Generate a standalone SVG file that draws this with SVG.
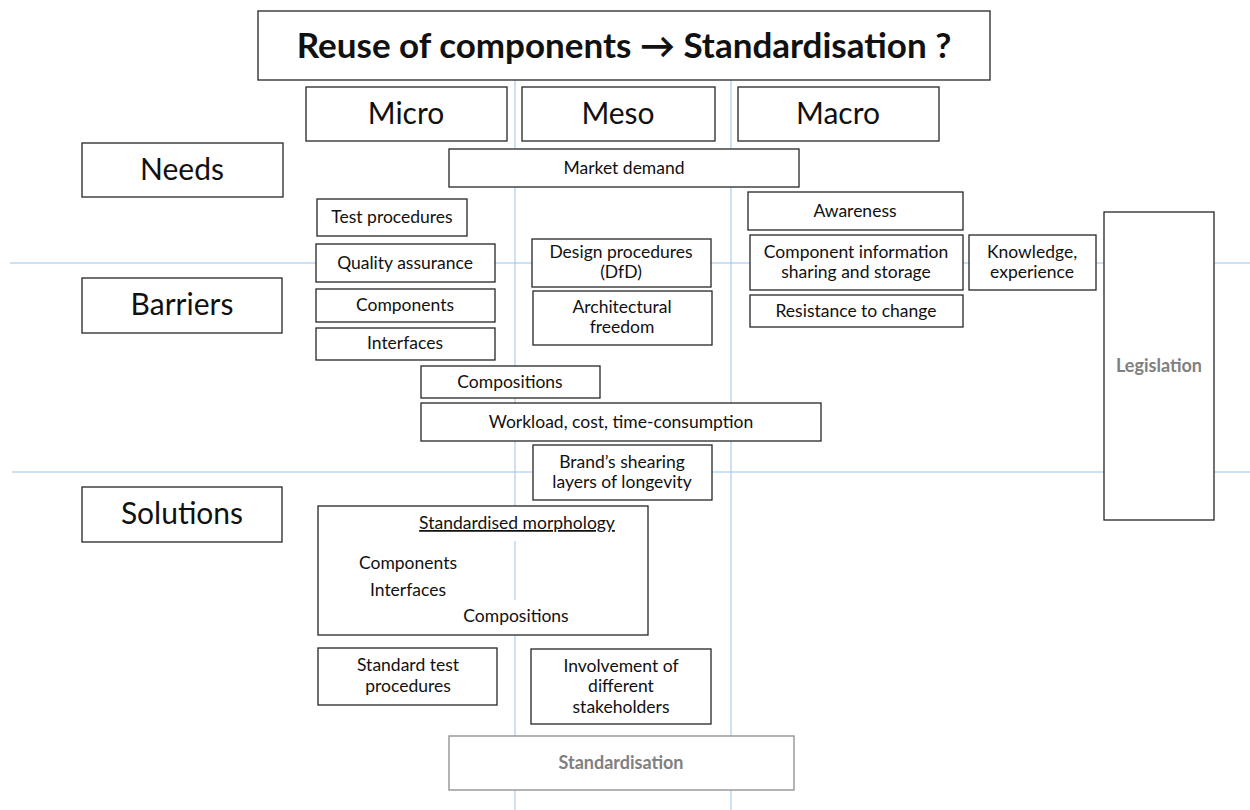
<svg xmlns="http://www.w3.org/2000/svg" width="1250" height="810" viewBox="0 0 1250 810">
<style>
.b{fill:#fff;stroke:#262626;stroke-width:1.3}
.g{fill:#fff;stroke:#8c8c8c;stroke-width:1.3}
.grid{stroke:#9dc3e6;stroke-width:1;fill:none}
text{font-family:Lato,"Open Sans","Liberation Sans",sans-serif;fill:#111;text-anchor:middle}
.s{font-size:17.5px}
.l{font-size:30px}
.t{font-size:35px;font-weight:bold}
.gt{font-size:18px;font-weight:bold;fill:#808080}
</style>
<rect width="1250" height="810" fill="#fff"/>
<g id="grid">
<line class="grid" x1="515" y1="80" x2="515" y2="810"/>
<line class="grid" x1="731" y1="80" x2="731" y2="810"/>
<line class="grid" x1="10" y1="263" x2="1250" y2="263"/>
<line class="grid" x1="12" y1="472" x2="1250" y2="472"/>
</g>
<g id="title"><rect class="b" x="258" y="11" width="732" height="69"/><text class="t" x="624" y="58">Reuse of components → Standardisation ?</text></g>
<g id="micro"><rect class="b" x="306" y="87" width="201" height="54"/><text class="l" x="406" y="124">Micro</text></g>
<g id="meso"><rect class="b" x="522" y="87" width="193" height="54"/><text class="l" x="618" y="124">Meso</text></g>
<g id="macro"><rect class="b" x="738" y="87" width="201" height="54"/><text class="l" x="838" y="124">Macro</text></g>
<g id="needs"><rect class="b" x="82" y="143" width="201" height="54"/><text class="l" x="182" y="180">Needs</text></g>
<g id="barriers"><rect class="b" x="82" y="278" width="200" height="55"/><text class="l" x="182" y="315">Barriers</text></g>
<g id="solutions"><rect class="b" x="82" y="487" width="200" height="55"/><text class="l" x="182" y="524">Solutions</text></g>
<g id="market"><rect class="b" x="449" y="149" width="350" height="38"/><text class="s" x="624" y="174">Market demand</text></g>
<g id="testproc"><rect class="b" x="317" y="199" width="150" height="37"/><text class="s" x="392" y="223">Test procedures</text></g>
<g id="quality"><rect class="b" x="316" y="244" width="179" height="38"/><text class="s" x="405" y="269">Quality assurance</text></g>
<g id="components"><rect class="b" x="316" y="289" width="179" height="33"/><text class="s" x="405" y="311">Components</text></g>
<g id="interfaces"><rect class="b" x="316" y="328" width="179" height="32"/><text class="s" x="405" y="349">Interfaces</text></g>
<g id="design"><rect class="b" x="532" y="239" width="179" height="48"/><text class="s" x="621" y="258">Design procedures</text><text class="s" x="621" y="278">(DfD)</text></g>
<g id="arch"><rect class="b" x="533" y="291" width="179" height="54"/><text class="s" x="622" y="313">Architectural</text><text class="s" x="622" y="333">freedom</text></g>
<g id="awareness"><rect class="b" x="748" y="192" width="215" height="38"/><text class="s" x="855" y="217">Awareness</text></g>
<g id="compinfo"><rect class="b" x="750" y="235" width="213" height="55"/><text class="s" x="856" y="258">Component information</text><text class="s" x="856" y="278">sharing and storage</text></g>
<g id="knowledge"><rect class="b" x="969" y="235" width="127" height="55"/><text class="s" x="1032" y="258">Knowledge,</text><text class="s" x="1032" y="278">experience</text></g>
<g id="resistance"><rect class="b" x="750" y="295" width="213" height="32"/><text class="s" x="856" y="317">Resistance to change</text></g>
<g id="legislation"><rect class="b" x="1104" y="212" width="110" height="308"/><text class="gt" x="1159" y="372">Legislation</text></g>
<g id="compositions"><rect class="b" x="421" y="366" width="179" height="32"/><text class="s" x="510" y="388">Compositions</text></g>
<g id="workload"><rect class="b" x="421" y="403" width="400" height="38"/><text class="s" x="621" y="428">Workload, cost, time-consumption</text></g>
<g id="brand"><rect class="b" x="533" y="445" width="179" height="55"/><text class="s" x="622" y="468">Brand’s shearing</text><text class="s" x="622" y="488">layers of longevity</text></g>
<g id="morphology"><rect class="b" x="318" y="506" width="330" height="129"/>
<line class="grid" x1="515" y1="541" x2="515" y2="600"/>
<text class="s" x="517" y="529" text-decoration="underline">Standardised morphology</text>
<text class="s" x="408" y="569">Components</text>
<text class="s" x="408" y="596">Interfaces</text>
<text class="s" x="516" y="622">Compositions</text></g>
<g id="stdtest"><rect class="b" x="318" y="648" width="179" height="57"/><text class="s" x="408" y="671">Standard test</text><text class="s" x="408" y="692">procedures</text></g>
<g id="involvement"><rect class="b" x="531" y="649" width="180" height="75"/><text class="s" x="621" y="672">Involvement of</text><text class="s" x="621" y="692">different</text><text class="s" x="621" y="713">stakeholders</text></g>
<g id="standardisation"><rect class="g" x="449" y="736" width="345" height="54"/><text class="gt" x="621" y="769">Standardisation</text></g>
</svg>
